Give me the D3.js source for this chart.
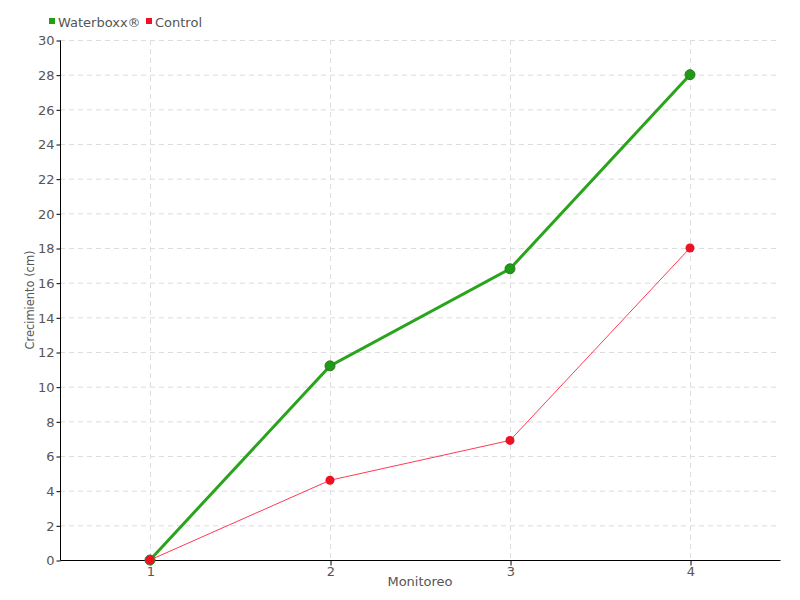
<!DOCTYPE html>
<html>
<head>
<meta charset="utf-8" />
<script src="https://d3js.org/d3.v7.min.js"></script>
<style>
  body { margin: 0; background: #fff; }
  text { font-family: "DejaVu Sans", sans-serif; fill: #555; }
</style>
</head>
<body>
<svg id="viz"></svg>
<script>
// data
var monitoreo = [1, 2, 3, 4];
var waterboxx = [0, 11.2, 16.8, 28];
var control = [0, 4.6, 6.9, 18];
var yTicks = d3.range(0, 31, 2);

var width = 800, height = 600;
var mLeft = 60, mRight = 780, mTop = 40, mBottom = 560;

var svg = d3.select("#viz").attr("width", width).attr("height", height);

var xScale = d3.scaleLinear().domain([0.5, 4.5]).range([mLeft, mRight]);
var yScale = d3.scaleLinear().domain([0, 30]).range([mBottom, mTop]);

// grid
svg.append("g").selectAll("line").data(yTicks.slice(1))
  .enter().append("line")
  .attr("x1", mLeft).attr("x2", mRight)
  .attr("y1", function(d) { return yScale(d) + 0.5; })
  .attr("y2", function(d) { return yScale(d) + 0.5; })
  .attr("stroke", "#ddd").attr("stroke-dasharray", "5,4");

svg.append("g").selectAll("line").data(monitoreo)
  .enter().append("line")
  .attr("y1", mTop).attr("y2", mBottom)
  .attr("x1", function(d) { return xScale(d) + 0.5; })
  .attr("x2", function(d) { return xScale(d) + 0.5; })
  .attr("stroke", "#ddd").attr("stroke-dasharray", "5,4");

// axes
var yAxis = d3.axisLeft(yScale).tickValues(yTicks).tickSize(4).tickPadding(2);
var gy = svg.append("g").attr("transform", "translate(" + (mLeft + 0.5) + ",0.5)").call(yAxis);
gy.select(".domain").attr("d", "M0," + mTop + "V" + mBottom);

var xAxis = d3.axisBottom(xScale).tickValues(monitoreo).tickFormat(d3.format("d")).tickSize(5).tickPadding(1);
var gx = svg.append("g").attr("transform", "translate(0.5," + (mBottom + 0.5) + ")").call(xAxis);
gx.select(".domain").attr("d", "M" + mLeft + ",0H" + mRight);

svg.selectAll(".domain, .tick line").attr("stroke", "#000");
svg.selectAll(".tick text").style("font-size", "13px").attr("fill", "#555");

// labels
svg.append("text")
  .attr("x", (mLeft + mRight) / 2).attr("y", 586)
  .attr("text-anchor", "middle").style("font-size", "13px")
  .text("Monitoreo");

svg.append("text")
  .attr("transform", "translate(34," + ((mTop + mBottom) / 2) + ") rotate(-90) scale(0.88,1)")
  .attr("text-anchor", "middle").style("font-size", "13px")
  .text("Crecimiento (cm)");

// lines
var line = d3.line()
  .x(function(d, i) { return xScale(monitoreo[i]); })
  .y(function(d) { return yScale(d); });

svg.append("path").datum(waterboxx)
  .attr("d", line).attr("fill", "none")
  .attr("stroke", "#2aa41c").attr("stroke-width", 3);

svg.selectAll("circle.wb").data(waterboxx)
  .enter().append("circle").attr("class", "wb")
  .attr("cx", function(d, i) { return xScale(monitoreo[i]); })
  .attr("cy", function(d) { return yScale(d); })
  .attr("r", 5)
  .attr("fill", "#1f9a17").attr("stroke", "#2a7a22").attr("stroke-width", 1);

svg.append("path").datum(control)
  .attr("d", line).attr("fill", "none")
  .attr("stroke", "#ff3a55").attr("stroke-width", 1);

svg.selectAll("circle.ct").data(control)
  .enter().append("circle").attr("class", "ct")
  .attr("cx", function(d, i) { return xScale(monitoreo[i]); })
  .attr("cy", function(d) { return yScale(d); })
  .attr("r", 4.5)
  .attr("fill", "#ee1125");

// legend
var legend = [
  { name: "Waterboxx\u00AE", color: "#22a015", x: 49 },
  { name: "Control", color: "#ee1125", x: 146 }
];
var lg = svg.append("g").selectAll("g").data(legend).enter().append("g")
  .attr("transform", function(d) { return "translate(" + d.x + ",22)"; });
lg.append("rect").attr("x", 0).attr("y", -4).attr("width", 6).attr("height", 6)
  .attr("fill", function(d) { return d.color; });
lg.append("text").attr("x", 9).attr("y", 5).style("font-size", "13px")
  .text(function(d) { return d.name; });
</script>
</body>
</html>
